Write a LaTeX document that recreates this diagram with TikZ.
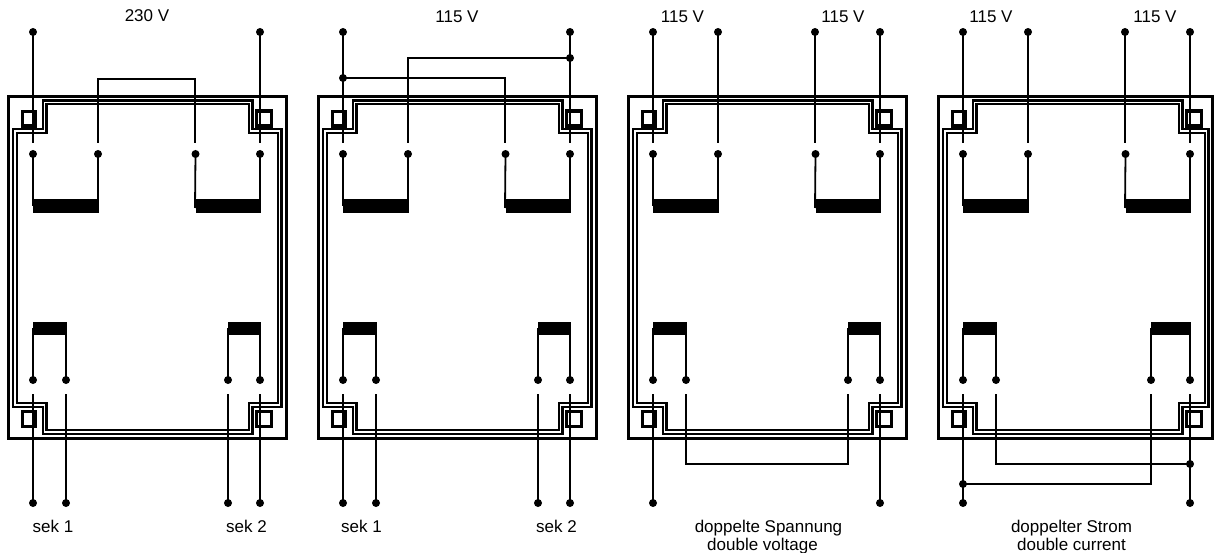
\documentclass[tikz,border=0pt]{standalone}
\usepackage{fontspec}
\setmainfont{Liberation Sans}
\tikzset{
  wire/.style={line width=1.8pt},
  thinwire/.style={line width=1.3pt},
  dot/.style={circle, fill=black, inner sep=0pt, minimum size=8pt},
  frameouter/.style={line width=3.6pt},
  framecore/.style={double, line width=2.3pt, double distance=1.4pt},
  lamsq/.style={line width=3.4pt},
  lbl/.style={font=\fontsize{17}{19}\selectfont, anchor=base, inner sep=0pt},
}
% #1 name, #2 x offset, #3 outer right x, #4 inner right x, #5 x of 3rd secondary wire
\newcommand\trafo[5]{%
 \begin{scope}[shift={(#2,0)}]
  \draw[frameouter] (8.5,96.5) rectangle (#3,438.5);
  \draw[framecore] (15,131) -- (44.5,131) -- (44.5,102.5) -- (250.5,102.5) -- (250.5,131)
     -- (#4,131) -- (#4,405) -- (250.5,405) -- (250.5,432) -- (44.5,432) -- (44.5,405)
     -- (15,405) -- cycle;
  \draw[lamsq] (22.5,111.5) rectangle (35.5,126);
  \draw[lamsq] (256.5,111) rectangle (271.5,126);
  \draw[lamsq] (22.5,411.5) rectangle (35.5,426.5);
  \draw[lamsq] (256.5,411.5) rectangle (271.5,426.5);
  % windings
  \fill (33.3,199.5) rectangle (98.5,213);
  \fill (196,199.5) rectangle (260.5,213);
  \fill (33.3,321.5) rectangle (66.5,335);
  \fill (#5,321.5) rectangle (260.5,335);
  % inner terminals
  \node[dot] (#1-p1) at (33,154) {};
  \node[dot] (#1-p2) at (98,154) {};
  \node[dot] (#1-p3) at (195.5,154) {};
  \node[dot] (#1-p4) at (260,154) {};
  \node[dot] (#1-s1) at (33,380) {};
  \node[dot] (#1-s2) at (66,380) {};
  \node[dot] (#1-s3) at (#5,380) {};
  \node[dot] (#1-s4) at (260,380) {};
  \coordinate (#1-w1) at (33,206);
  \coordinate (#1-w2) at (98,201);
  \coordinate (#1-w3) at (195,208);
  \coordinate (#1-w4) at (260,201);
  \coordinate (#1-v1) at (33,328);
  \coordinate (#1-v2) at (66,328);
  \coordinate (#1-v3) at (#5,328);
  \coordinate (#1-v4) at (260,328);
  \foreach \i in {1,2,3,4} {
    \draw[wire] (#1-p\i.center) -- (#1-w\i);
    \draw[wire] (#1-s\i.center) -- (#1-v\i);
  }
  % lead ends
  \coordinate (#1-t1) at (33,143);
  \coordinate (#1-t2) at (98,143);
  \coordinate (#1-t3) at (195,143);
  \coordinate (#1-t4) at (260,143);
  \coordinate (#1-b1) at (33,394);
  \coordinate (#1-b2) at (66,394);
  \coordinate (#1-b3) at (#5,394);
  \coordinate (#1-b4) at (260,394);
 \end{scope}}
\begin{document}
\begin{tikzpicture}[x=1pt,y=-1pt]
\useasboundingbox[fill=white] (0,0) rectangle (1214,553);

\trafo{t1}{0}{286.5}{279.5}{228}
\trafo{t2}{310}{286.5}{279.5}{228}
\trafo{t3}{620}{286.5}{279.5}{228}
\trafo{t4}{930}{282.5}{276.5}{221}

% ---------- T1: 230 V ----------
\node[lbl] (l1) at (147,22) {230 V};
\node[dot] (t1-A) at (33,32) {};
\node[dot] (t1-D) at (260,32) {};
\draw[wire] (t1-A.center) -- (t1-t1);
\draw[wire] (t1-D.center) -- (t1-t4);
\draw[thinwire] (t1-t2) -- ++(0,-64) -| (t1-t3);
\node[dot] (t1-S1) at (33,503) {};
\node[dot] (t1-S2) at (66,503) {};
\node[dot] (t1-S3) at (228,503) {};
\node[dot] (t1-S4) at (260,503) {};
\foreach \i in {1,2,3,4} \draw[wire] (t1-b\i) -- (t1-S\i.center);
\node[lbl] (l1a) at (53,532) {sek 1};
\node[lbl] (l1b) at (246.5,532) {sek 2};

% ---------- T2: 115 V ----------
\node[lbl] (l2) at (457,23) {115 V};
\node[dot] (t2-A) at (343,32) {};
\node[dot] (t2-D) at (570,32) {};
\node[dot] (t2-J1) at (343,78) {};
\node[dot] (t2-J2) at (570,58) {};
\draw[wire] (t2-A.center) -- (t2-t1);
\draw[wire] (t2-D.center) -- (t2-t4);
\draw[thinwire] (t2-J1.center) -| (t2-t3);
\draw[thinwire] (t2-J2.center) -| (t2-t2);
\node[dot] (t2-S1) at (343,503) {};
\node[dot] (t2-S2) at (376,503) {};
\node[dot] (t2-S3) at (538,503) {};
\node[dot] (t2-S4) at (570,503) {};
\foreach \i in {1,2,3,4} \draw[wire] (t2-b\i) -- (t2-S\i.center);
\node[lbl] (l2a) at (361.5,532) {sek 1};
\node[lbl] (l2b) at (556.5,532) {sek 2};

% ---------- T3: double voltage ----------
\node[lbl] (l3a) at (682.5,23) {115 V};
\node[lbl] (l3b) at (843,23) {115 V};
\node[dot] (t3-A) at (653,32) {};
\node[dot] (t3-B) at (718,32) {};
\node[dot] (t3-C) at (815,32) {};
\node[dot] (t3-D) at (880,32) {};
\draw[wire] (t3-A.center) -- (t3-t1);
\draw[wire] (t3-B.center) -- (t3-t2);
\draw[wire] (t3-C.center) -- (t3-t3);
\draw[wire] (t3-D.center) -- (t3-t4);
\node[dot] (t3-S1) at (653,503) {};
\node[dot] (t3-S4) at (880,503) {};
\draw[wire] (t3-b1) -- (t3-S1.center);
\draw[wire] (t3-b4) -- (t3-S4.center);
\draw[thinwire] (t3-b2) -- ++(0,70) -| (t3-b3);
\node[lbl] (l3c) at (768.5,532.5) {doppelte Spannung};
\node[lbl] (l3d) at (762.5,550.5) {double voltage};

% ---------- T4: double current ----------
\node[lbl] (l4a) at (991,23) {115 V};
\node[lbl] (l4b) at (1155,23) {115 V};
\node[dot] (t4-A) at (963,32) {};
\node[dot] (t4-B) at (1028,32) {};
\node[dot] (t4-C) at (1125,32) {};
\node[dot] (t4-D) at (1190,32) {};
\draw[wire] (t4-A.center) -- (t4-t1);
\draw[wire] (t4-B.center) -- (t4-t2);
\draw[wire] (t4-C.center) -- (t4-t3);
\draw[wire] (t4-D.center) -- (t4-t4);
\node[dot] (t4-S1) at (963,503) {};
\node[dot] (t4-S4) at (1190,503) {};
\node[dot] (t4-J1) at (1190,464) {};
\node[dot] (t4-J2) at (963,484) {};
\draw[wire] (t4-b1) -- (t4-S1.center);
\draw[wire] (t4-b4) -- (t4-S4.center);
\draw[thinwire] (t4-b2) |- (t4-J1.center);
\draw[thinwire] (t4-b3) |- (t4-J2.center);
\node[lbl] (l4c) at (1071.5,532.5) {doppelter Strom};
\node[lbl] (l4d) at (1071.5,550.5) {double current};
\end{tikzpicture}
\end{document}
